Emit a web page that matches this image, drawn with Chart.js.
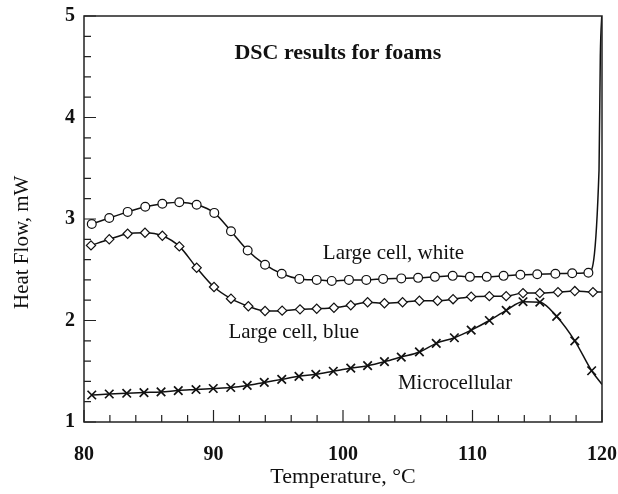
<!DOCTYPE html>
<html>
<head>
<meta charset="utf-8">
<script src="https://cdn.jsdelivr.net/npm/chart.js@4/dist/chart.umd.min.js"></script>
<style>
  html, body { margin: 0; padding: 0; background: #fff; }
  #wrap { width: 618px; height: 494px; }
</style>
</head>
<body>
<div id="wrap"><canvas id="dsc" width="618" height="494"></canvas></div>
<script>
// Large cell, white (circles); last three points are the line-only upturn
const tempWhite = [80.6, 81.95, 83.37, 84.73, 86.05, 87.36, 88.7, 90.06, 91.35, 92.64,
  93.98, 95.27, 96.63, 97.97, 99.13, 100.46, 101.8, 103.1, 104.5, 105.8,
  107.1, 108.47, 109.8, 111.1, 112.4, 113.7, 115.0, 116.4, 117.7, 118.95, 119.77, 119.87, 120.0];
const flowWhite = [2.95, 3.01, 3.07, 3.12, 3.15, 3.165, 3.14, 3.06, 2.88, 2.69,
  2.55, 2.46, 2.41, 2.40, 2.39, 2.40, 2.40, 2.41, 2.415, 2.42,
  2.43, 2.44, 2.43, 2.43, 2.44, 2.45, 2.455, 2.46, 2.465, 2.47, 3.48, 4.6, 5.05];

// Large cell, blue (diamonds)
const tempBlue = [80.54, 81.95, 83.37, 84.71, 86.05, 87.36, 88.7, 90.04, 91.35, 92.69,
  93.98, 95.3, 96.68, 97.97, 99.3, 100.6, 101.9, 103.2, 104.6, 105.9,
  107.3, 108.5, 109.9, 111.3, 112.6, 113.9, 115.2, 116.6, 117.9, 119.3, 120.0];
const flowBlue = [2.74, 2.80, 2.855, 2.865, 2.835, 2.73, 2.52, 2.33, 2.215, 2.14,
  2.094, 2.097, 2.11, 2.116, 2.126, 2.15, 2.18, 2.17, 2.18, 2.195,
  2.195, 2.21, 2.235, 2.24, 2.24, 2.27, 2.27, 2.28, 2.29, 2.28, 2.28];

// Microcellular (crosses)
const tempMicro = [80.6, 81.95, 83.3, 84.63, 85.95, 87.28, 88.65, 89.98, 91.33, 92.6,
  93.92, 95.27, 96.6, 97.9, 99.25, 100.6, 101.9, 103.2, 104.5, 105.9,
  107.2, 108.6, 109.9, 111.3, 112.6, 113.9, 115.2, 116.5, 117.9, 119.2, 120.0];
const flowMicro = [1.266, 1.276, 1.283, 1.29, 1.296, 1.31, 1.32, 1.33, 1.34, 1.36,
  1.39, 1.42, 1.45, 1.47, 1.50, 1.53, 1.555, 1.594, 1.64, 1.69,
  1.775, 1.83, 1.905, 2.0, 2.10, 2.185, 2.18, 2.04, 1.80, 1.505, 1.37];

// number of leading points drawn with a marker
const markedWhite = 30;
const markedBlue = 30;
const markedMicro = 30;

const xTicks = [80, 90, 100, 110, 120];
const yTicks = [1, 2, 3, 4, 5];
const yTitle = 'Heat Flow, mW';

// text placed in data coordinates
const notes = [
  { text: 'DSC results for foams', x: 99.6, y: 4.635, bold: true, size: 22 },
  { text: 'Large cell, white', x: 103.9, y: 2.665, bold: false, size: 21 },
  { text: 'Large cell, blue', x: 96.2, y: 1.88, bold: false, size: 21 },
  { text: 'Microcellular', x: 108.65, y: 1.384, bold: false, size: 21 }
];

const serif = '"Liberation Serif", "DejaVu Serif", serif';

function points(xs, ys) {
  return xs.map((x, i) => ({ x: x, y: ys[i] }));
}

function radii(n, marked, r) {
  const out = [];
  for (let i = 0; i < n; i++) out.push(i < marked ? r : 0);
  return out;
}

// box, inward ticks, y title and text notes
const framePlugin = {
  id: 'frame',
  afterDatasetsDraw(chart) {
    const { ctx, chartArea: a, scales } = chart;
    ctx.save();
    ctx.strokeStyle = '#222';
    ctx.lineWidth = 1.5;
    ctx.strokeRect(a.left, a.top, a.right - a.left, a.bottom - a.top);

    ctx.lineWidth = 1.2;
    ctx.beginPath();
    for (let v = 80; v <= 120; v += 2) {
      const px = scales.x.getPixelForValue(v);
      const len = v % 10 === 0 ? 12 : 7;
      ctx.moveTo(px, a.bottom);
      ctx.lineTo(px, a.bottom - len);
    }
    for (let k = 10; k <= 50; k += 2) {
      const v = k / 10;
      const py = scales.y.getPixelForValue(v);
      const len = k % 10 === 0 ? 12 : 7;
      ctx.moveTo(a.left, py);
      ctx.lineTo(a.left + len, py);
    }
    ctx.stroke();

    ctx.fillStyle = '#111';
    ctx.textAlign = 'center';
    ctx.textBaseline = 'middle';
    notes.forEach(n => {
      ctx.font = (n.bold ? 'bold ' : '') + n.size + 'px ' + serif;
      ctx.fillText(n.text, scales.x.getPixelForValue(n.x), scales.y.getPixelForValue(n.y));
    });

    // y axis title, sitting a little below the middle of the axis
    ctx.translate(22, scales.y.getPixelForValue(2.77));
    ctx.rotate(-Math.PI / 2);
    ctx.font = '21px ' + serif;
    ctx.fillText(yTitle, 0, 0);
    ctx.restore();
  }
};

const lineStyle = {
  borderColor: '#111',
  borderWidth: 1.5,
  pointBorderColor: '#111',
  pointBackgroundColor: '#fff',
  pointBorderWidth: 1.2,
  cubicInterpolationMode: 'monotone',
  fill: false
};

new Chart(document.getElementById('dsc'), {
  type: 'line',
  data: {
    datasets: [
      Object.assign({
        label: 'Large cell, white',
        data: points(tempWhite, flowWhite),
        pointStyle: 'circle',
        pointRadius: radii(tempWhite.length, markedWhite, 4.4)
      }, lineStyle),
      Object.assign({
        label: 'Large cell, blue',
        data: points(tempBlue, flowBlue),
        pointStyle: 'rectRot',
        pointRadius: radii(tempBlue.length, markedBlue, 4.6)
      }, lineStyle),
      Object.assign({}, lineStyle, {
        label: 'Microcellular',
        data: points(tempMicro, flowMicro),
        pointStyle: 'crossRot',
        pointRadius: radii(tempMicro.length, markedMicro, 6),
        pointBorderWidth: 1.7
      })
    ]
  },
  options: {
    responsive: false,
    animation: false,
    layout: { padding: { left: 0, right: 16, top: 16, bottom: 0 } },
    plugins: { legend: { display: false }, tooltip: { enabled: false } },
    scales: {
      x: {
        type: 'linear',
        min: 80,
        max: 120,
        afterBuildTicks: s => { s.ticks = xTicks.map(v => ({ value: v })); },
        afterFit: s => {
          s.height = 72;
          s.paddingLeft = 0;
          s.paddingRight = 0;
        },
        grid: { display: false, drawTicks: false },
        border: { display: false },
        ticks: {
          color: '#111',
          padding: 21,
          maxRotation: 0,
          font: { family: serif, size: 20, weight: 'bold' }
        },
        title: {
          display: true,
          text: 'Temperature, °C',
          color: '#111',
          padding: { top: 0, bottom: 4 },
          font: { family: serif, size: 22 }
        }
      },
      y: {
        type: 'linear',
        min: 1,
        max: 5,
        afterBuildTicks: s => { s.ticks = yTicks.map(v => ({ value: v })); },
        afterFit: s => {
          s.width = 84;
          s.paddingTop = 0;
          s.paddingBottom = 0;
        },
        grid: { display: false, drawTicks: false },
        border: { display: false },
        ticks: {
          color: '#111',
          padding: 9,
          font: { family: serif, size: 20, weight: 'bold' }
        }
      }
    }
  },
  plugins: [framePlugin]
});
</script>
</body>
</html>
